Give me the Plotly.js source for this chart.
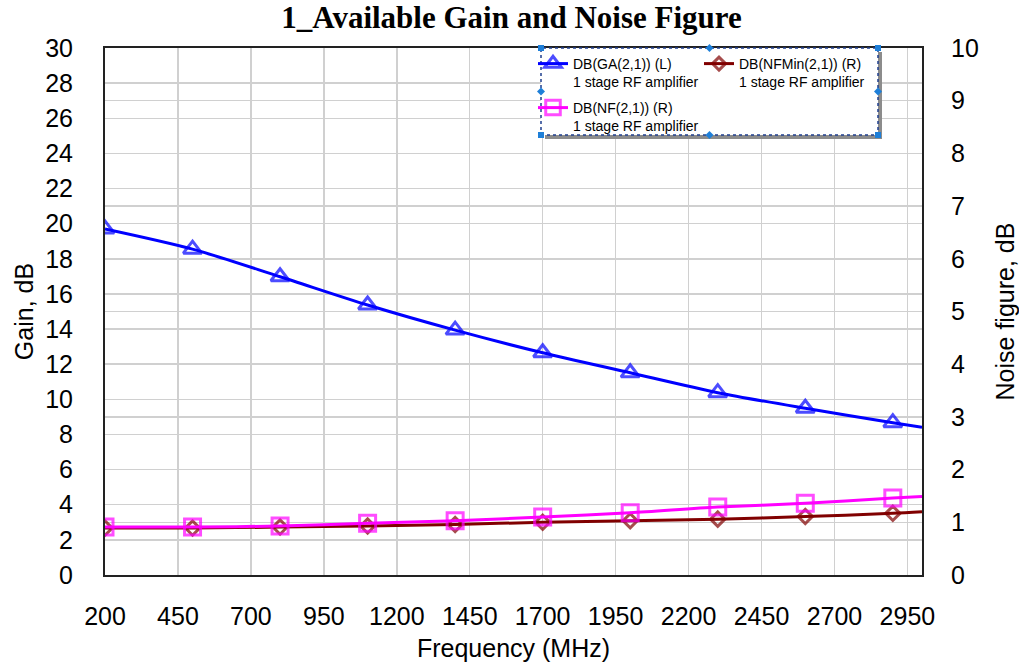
<!DOCTYPE html>
<html>
<head>
<meta charset="utf-8">
<script src="https://cdn.plot.ly/plotly-3.0.1.min.js"></script>
<style>html,body{margin:0;padding:0;background:#fff;}#chart{width:1019px;height:668px;}</style>
</head>
<body>
<div id="chart"></div>
<script>
// Frequency sweep points (MHz)
var freq = [200, 500, 800, 1100, 1400, 1700, 2000, 2300, 2600, 2900, 3000];
// DB(GA(2,1)) left axis, dB
var gaDb = [19.7, 18.55, 16.98, 15.37, 13.94, 12.65, 11.51, 10.38, 9.49, 8.67, 8.41];
// DB(NFMin(2,1)) right axis, dB
var nfMinDb = [0.89, 0.89, 0.91, 0.93, 0.96, 1.0, 1.03, 1.06, 1.11, 1.17, 1.2];
// DB(NF(2,1)) right axis, dB
var nfDb = [0.91, 0.91, 0.93, 0.98, 1.03, 1.10, 1.18, 1.29, 1.36, 1.46, 1.49];
// marker shown on every sweep point but the last
var markerShown = [1, 1, 1, 1, 1, 1, 1, 1, 1, 1, 0];

var seriesNames = [
  'DB(GA(2,1)) (L)<br>1 stage RF amplifier',
  'DB(NFMin(2,1)) (R)<br>1 stage RF amplifier',
  'DB(NF(2,1)) (R)<br>1 stage RF amplifier'
];

function sizes(s) { return markerShown.map(function (m) { return m ? s : 0; }); }

var FONT = 'Liberation Sans, Arial, sans-serif';

var traces = [
  {
    x: freq, y: gaDb, name: seriesNames[0], yaxis: 'y', legend: 'legend',
    mode: 'lines+markers', line: {color: '#0000ff', width: 3, shape: 'spline', smoothing: 0.8},
    marker: {symbol: 'triangle-up-open', size: sizes(16), color: '#0000ff', line: {width: 3, color: '#0000ff'}},
    hoverinfo: 'x+y'
  },
  {
    x: freq, y: nfMinDb, name: seriesNames[1], yaxis: 'y2', legend: 'legend2',
    mode: 'lines+markers', line: {color: '#800000', width: 3, shape: 'spline', smoothing: 0.8},
    marker: {symbol: 'diamond-open', size: sizes(11), color: '#800000', line: {width: 3, color: '#800000'}},
    hoverinfo: 'x+y'
  },
  {
    x: freq, y: nfDb, name: seriesNames[2], yaxis: 'y2', legend: 'legend3',
    mode: 'lines+markers', line: {color: '#ff00ff', width: 3, shape: 'spline', smoothing: 0.8},
    marker: {symbol: 'square-open', size: sizes(16), color: '#ff00ff', line: {width: 3, color: '#ff00ff'}},
    hoverinfo: 'x+y'
  }
];

var L = 105, R = 922, T = 48, B = 575;
function px(x) { return (x - L) / (R - L); }
function py(y) { return (B - y) / (B - T); }

var boxX0 = 541, boxX1 = 878, boxY0 = 48, boxY1 = 135;
var handleColor = '#1e7fd8';
var shapes = [
  {type: 'rect', xref: 'paper', yref: 'paper', x0: px(boxX0 + 4), x1: px(boxX1 + 4), y0: py(boxY1 + 4), y1: py(boxY0 + 4),
   fillcolor: '#8c8c8c', line: {width: 0}, layer: 'above'},
  {type: 'rect', xref: 'paper', yref: 'paper', x0: px(boxX0), x1: px(boxX1), y0: py(boxY1), y1: py(boxY0),
   fillcolor: '#ffffff', line: {width: 1.5, color: '#1f3f8f', dash: 'dot'}, layer: 'above'}
];
[[boxX0, boxY0], [boxX1, boxY0], [boxX0, boxY1], [boxX1, boxY1]].forEach(function (p) {
  shapes.push({type: 'rect', xref: 'paper', yref: 'paper', xsizemode: 'pixel', ysizemode: 'pixel',
    xanchor: px(p[0]), yanchor: py(p[1]), x0: -3, x1: 3, y0: -3, y1: 3,
    fillcolor: handleColor, line: {width: 0}, layer: 'above'});
});
var midX = (boxX0 + boxX1) / 2, midY = (boxY0 + boxY1) / 2;
[[midX, boxY0], [boxX0, midY], [boxX1, midY], [midX, boxY1]].forEach(function (p) {
  shapes.push({type: 'path', xref: 'paper', yref: 'paper', xsizemode: 'pixel', ysizemode: 'pixel',
    xanchor: px(p[0]), yanchor: py(p[1]), path: 'M0,4 L4,0 L0,-4 L-4,0 Z',
    fillcolor: handleColor, line: {width: 0}, layer: 'above'});
});

function legendAt(xPix, yPix) {
  return {
    x: px(xPix), y: py(yPix), xanchor: 'left', yanchor: 'top',
    bgcolor: 'rgba(0,0,0,0)', borderwidth: 0, valign: 'top',
    font: {family: FONT, size: 14, color: '#000'}, itemclick: false, itemdoubleclick: false
  };
}

var axisFont = {family: FONT, size: 25, color: '#000'};

var layout = {
  width: 1019, height: 668,
  margin: {l: L, r: 1019 - R, t: T, b: 668 - B, pad: 0},
  paper_bgcolor: '#ffffff', plot_bgcolor: '#ffffff',
  title: {
    text: '<b>1_Available Gain and Noise Figure</b>',
    font: {family: 'Liberation Serif, Times New Roman, serif', size: 31, color: '#000'},
    x: 0.502, xref: 'container', xanchor: 'center', y: 0.974, yref: 'container', yanchor: 'middle'
  },
  xaxis: {
    range: [200, 3000], tick0: 200, dtick: 250, tickmode: 'linear',
    showgrid: true, gridcolor: '#d0d0d0', gridwidth: 1.5,
    showline: true, linecolor: '#222', linewidth: 2, mirror: true,
    ticks: '', ticklabelstandoff: 18, tickfont: axisFont, zeroline: false,
    title: {text: 'Frequency (MHz)', font: axisFont, standoff: 10}
  },
  yaxis: {
    range: [0, 30], tick0: 0, dtick: 2, tickmode: 'linear',
    showgrid: true, gridcolor: '#d0d0d0', gridwidth: 1.5,
    showline: true, linecolor: '#222', linewidth: 2, mirror: true,
    ticks: '', ticklabelstandoff: 25, tickfont: axisFont, zeroline: false,
    title: {text: 'Gain, dB', font: axisFont, standoff: 4}
  },
  yaxis2: {
    range: [0, 10], tick0: 0, dtick: 1, tickmode: 'linear', overlaying: 'y', side: 'right',
    showgrid: true, gridcolor: '#d0d0d0', gridwidth: 1.5,
    showline: false, ticks: '', ticklabelstandoff: 28, tickfont: axisFont, zeroline: false,
    title: {text: 'Noise figure, dB', font: axisFont, standoff: 18}
  },
  legend: legendAt(533, 48),
  legend2: legendAt(699, 48),
  legend3: legendAt(533, 92),
  shapes: shapes,
  showlegend: true
};

Plotly.newPlot('chart', traces, layout, {displayModeBar: false, staticPlot: true});
</script>
</body>
</html>
